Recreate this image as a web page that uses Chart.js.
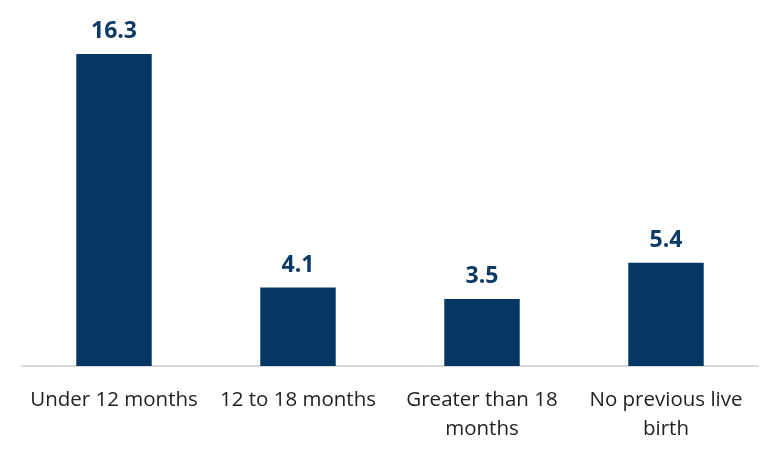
<!DOCTYPE html>
<html>
<head>
<meta charset="utf-8">
<script src="https://cdn.jsdelivr.net/npm/chart.js@4"></script>
<style>
  html, body { margin: 0; padding: 0; background: #fff; }
  #wrap { width: 780px; height: 456px; }
</style>
</head>
<body>
<div id="wrap"><canvas id="birthIntervalChart"></canvas></div>
<script>
const categories = [
    'Under 12 months',
    '12 to 18 months',
    ['Greater than 18', 'months'],
    ['No previous live', 'birth']
]
const rates = [16.3, 4.1, 3.5, 5.4]

// value labels above each bar
const barLabels = {
    id: 'barLabels',
    afterDatasetsDraw(chart) {
        const ctx = chart.ctx
        const meta = chart.getDatasetMeta(0)
        ctx.save()
        ctx.font = 'bold 23px "Open Sans", sans-serif'
        ctx.fillStyle = '#0b3a64'
        ctx.textAlign = 'center'
        ctx.textBaseline = 'alphabetic'
        meta.data.forEach((bar, i) => {
            ctx.fillText(rates[i].toFixed(1), bar.x, bar.y - 16)
        })
        ctx.restore()
    }
}

const bar_chart = document.getElementById('birthIntervalChart').getContext('2d')
new Chart(bar_chart, {
    type: 'bar',
    data: {
        labels: categories,
        datasets: [{
            data: rates,
            backgroundColor: '#033662',
            borderWidth: 0,
            categoryPercentage: 1,
            barPercentage: 0.41
        }]
    },
    options: {
        responsive: true,
        maintainAspectRatio: false,
        animation: false,
        layout: { padding: { left: 22, right: 22, top: 54, bottom: 0 } },
        plugins: { legend: { display: false }, tooltip: { enabled: false } },
        scales: {
            x: {
                grid: { display: false },
                border: { color: '#d9d9d9', width: 2 },
                ticks: {
                    color: '#222222',
                    font: { family: '"Open Sans", sans-serif', size: 20.5, lineHeight: 1.45 },
                    padding: 11,
                    maxRotation: 0,
                    autoSkip: false
                },
                afterFit(scale) { scale.height = 90 }
            },
            y: {
                display: false,
                min: 0,
                max: 16.3
            }
        }
    },
    plugins: [barLabels]
})
</script>
</body>
</html>
